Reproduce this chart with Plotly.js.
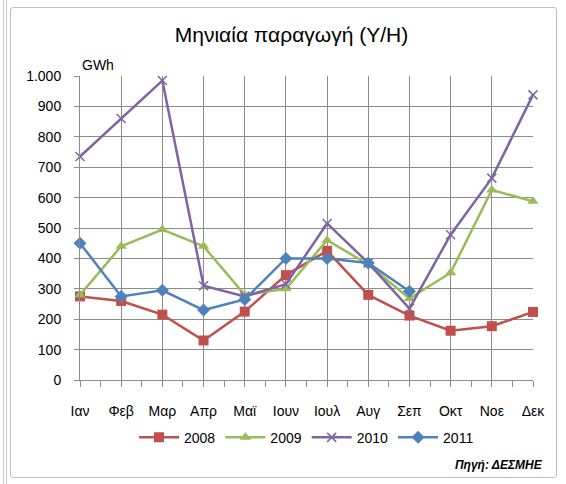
<!DOCTYPE html>
<html><head><meta charset="utf-8">
<script src="https://cdn.plot.ly/plotly-3.0.1.min.js"></script>
<style>
html,body{margin:0;padding:0;background:#fff;}
#wrap{position:relative;width:566px;height:484px;overflow:hidden;}
#chart{position:absolute;left:0;top:0;width:566px;height:484px;}
#frame{position:absolute;left:10px;top:7px;width:545px;height:469px;border:1px solid #bfbfbf;border-radius:3px;pointer-events:none;}
#edge{position:absolute;left:3px;top:0;width:2px;height:484px;border-left:1px solid #c8c8c8;border-right:1px solid #c8c8c8;}
</style></head>
<body><div id="wrap"><div id="edge"></div><div id="chart"></div><div id="frame"></div></div>
<script>
const months = ["Ιαν","Φεβ","Μαρ","Απρ","Μαϊ","Ιουν","Ιουλ","Αυγ","Σεπ","Οκτ","Νοε","Δεκ"];
const v2008 = [275,260,215,130,225,345,425,280,212,162,177,224];
const v2009 = [280,440,495,440,280,300,460,380,268,353,625,588];
const v2010 = [735,860,985,310,275,315,515,385,235,478,664,938];
const v2011 = [450,275,295,230,265,400,400,385,292];
const yTicks = [0,100,200,300,400,500,600,700,800,900,1000];
const yTickText = ["0","100","200","300","400","500","600","700","800","900","1.000"];
const halfTicks = [0,0.5,1,1.5,2,2.5,3,3.5,4,4.5,5,5.5,6,6.5,7,7.5,8,8.5,9,9.5,10,10.5,11];

const FONT = "Liberation Sans, Arial, sans-serif";
function tr(name, y, color, symbol, size, lw){
  return {type:"scatter", mode:"lines+markers", name:name, x:months.slice(0,y.length), y:y, cliponaxis:false,
    line:{color:color,width:2.5}, marker:{symbol:symbol,size:size,color:color,line:{color:color,width:lw||0}}};
}
const data = [
  {type:"scatter", x:[0,11], y:[0,0], xaxis:"x2", yaxis:"y", mode:"lines", line:{color:"rgba(0,0,0,0)",width:0}, showlegend:false, hoverinfo:"skip"},
  tr("2008", v2008, "#C0504D", "square", 10),
  tr("2009", v2009, "#9BBB59", "triangle-up", 10),
  tr("2010", v2010, "#8064A2", "x-thin-open", 9, 1.5),
  tr("2011", v2011, "#4F81BD", "diamond", 10)
];
const layout = {
  width:566, height:484,
  margin:{l:80,r:33,t:76,b:104},
  paper_bgcolor:"rgba(0,0,0,0)", plot_bgcolor:"#fff",
  font:{family:FONT,size:14,color:"#000"},
  title:{text:"Μηνιαία παραγωγή (Υ/Η)", font:{family:FONT,size:21,color:"#000"}, x:0.515, xanchor:"center", y:0.928, yanchor:"middle"},
  xaxis:{type:"category", categoryarray:months, range:[0,11], showgrid:true, gridcolor:"#8c8c8c", gridwidth:1,
    ticks:"", showline:true, linecolor:"#8c8c8c", tickfont:{size:14}, zeroline:false, ticklabelstandoff:18},
  xaxis2:{overlaying:"x", anchor:"y", type:"linear", range:[0,11], tickmode:"array", tickvals:halfTicks, showticklabels:false,
    ticks:"outside", ticklen:6, tickwidth:1, tickcolor:"#8c8c8c", showgrid:false, zeroline:false, showline:false, side:"bottom"},
  yaxis:{range:[0,1000], tickmode:"array", tickvals:yTicks, ticktext:yTickText, showgrid:true, gridcolor:"#8c8c8c",
    ticks:"outside", ticklen:5, tickcolor:"#8c8c8c", showline:true, linecolor:"#8c8c8c", zeroline:false, tickfont:{size:14}, ticklabelstandoff:10},
  legend:{orientation:"h", x:0.5, xanchor:"center", y:-0.19, yanchor:"middle", font:{size:14}, itemwidth:40, traceorder:"normal"},
  annotations:[
    {text:"GWh", xref:"paper", yref:"paper", x:0.0, y:1.0, xanchor:"left", yanchor:"bottom", showarrow:false, font:{size:14}, xshift:0, yshift:1},
    {text:"<b><i>Πηγή: ΔΕΣΜΗΕ</i></b>", xref:"paper", yref:"paper", x:1.0, y:0, xanchor:"right", yanchor:"middle", showarrow:false, font:{size:12}, xshift:12, yshift:-85}
  ],
  showlegend:true
};
Plotly.newPlot("chart", data, layout, {staticPlot:true, displayModeBar:false});
</script></body></html>
